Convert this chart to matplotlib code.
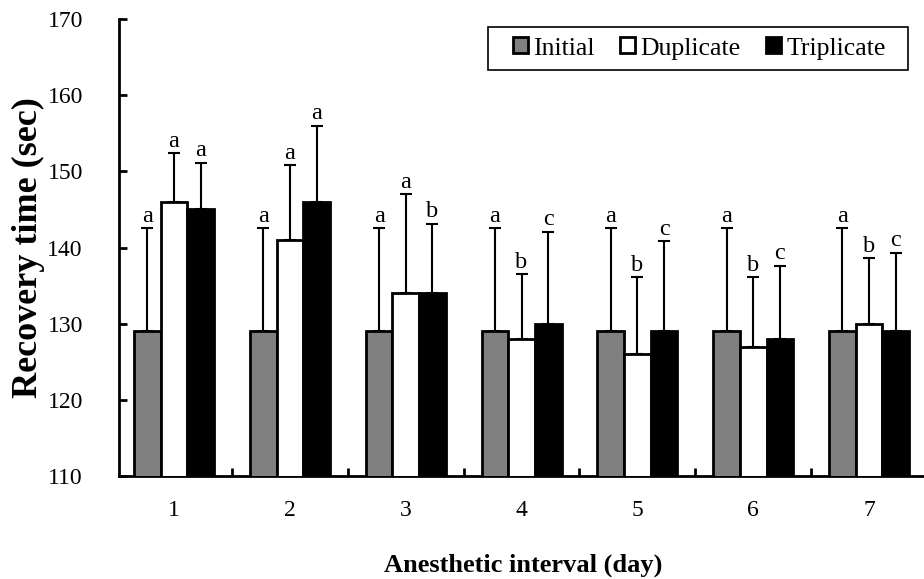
import matplotlib
matplotlib.use("Agg")
import matplotlib.pyplot as plt
import numpy as np
from matplotlib.patches import Patch, Rectangle

plt.rcParams['font.family'] = ['Liberation Serif', 'DejaVu Serif']

days = ['1', '2', '3', '4', '5', '6', '7']
series_names = ['Initial', 'Duplicate', 'Triplicate']
initial = [129, 129, 129, 129, 129, 129, 129]
duplicate = [146, 141, 134, 128, 126, 127, 130]
triplicate = [145, 146, 134, 130, 129, 128, 129]
initial_sd = [13.5, 13.5, 13.5, 13.5, 13.5, 13.5, 13.5]
duplicate_sd = [6.4, 9.8, 13.0, 8.5, 10.1, 9.1, 8.6]
triplicate_sd = [6.1, 10.0, 9.1, 12.1, 11.8, 9.6, 10.3]
initial_letters = ['a'] * 7
duplicate_letters = ['a', 'a', 'a', 'b', 'b', 'b', 'b']
triplicate_letters = ['a', 'a', 'b', 'c', 'c', 'c', 'c']

colors = ['#808080', '#ffffff', '#000000']

fig = plt.figure(figsize=(9.24, 5.79), dpi=100)
ax = fig.add_axes([119/924, 103/579, 808/924, 457/579])

x = np.arange(len(days))
w = 0.23
offsets = [-w, 0, w]
vals = [initial, duplicate, triplicate]
sds = [initial_sd, duplicate_sd, triplicate_sd]
letters = [initial_letters, duplicate_letters, triplicate_letters]

for i in range(3):
    xs = x + offsets[i]
    ax.bar(xs, vals[i], width=w, bottom=0, color=colors[i], edgecolor='black',
           linewidth=2.0, zorder=3)
    ax.errorbar(xs, vals[i], yerr=[np.zeros(7), sds[i]], fmt='none', ecolor='black',
                elinewidth=1.5, capsize=4.3, capthick=1.5, zorder=2)
    for xi, v, s, l in zip(xs, vals[i], sds[i], letters[i]):
        ax.text(xi, v + s + 0.2, l, ha='center', va='bottom', fontsize=17.5)

ax.set_ylim(110, 170)
ax.set_xlim(-0.475, 6.5)
ax.set_yticks(np.arange(110, 171, 10))
ax.set_xticks(x)
ax.set_xticklabels(days)
ax.set_xticks(np.arange(0.5, 6.0, 1.0), minor=True)
ax.tick_params(axis='x', which='major', length=0, labelsize=17, pad=17)
ax.tick_params(axis='x', which='minor', direction='in', length=6, width=2)
ax.tick_params(axis='y', direction='in', length=6, width=2, labelsize=17, pad=26)

for s in ['top', 'right']:
    ax.spines[s].set_visible(False)
for s in ['left', 'bottom']:
    ax.spines[s].set_linewidth(2)

ax.set_ylabel('Recovery time (sec)', fontsize=26, fontweight='bold', labelpad=2)
ax.set_xlabel('Anesthetic interval (day)', fontsize=19, fontweight='bold', labelpad=24)

handles = [Patch(facecolor=colors[i], edgecolor='black', linewidth=2.0, label=series_names[i])
           for i in range(3)]
leg = ax.legend(handles=handles, loc='center left',
                ncol=3, fontsize=18.5, frameon=False,
                handlelength=0.58, handleheight=0.58, handletextpad=0.2, columnspacing=1.0,
                borderpad=0.0, borderaxespad=0.0)
leg.set_bbox_to_anchor((513/924, 1 - 48.5/579), transform=fig.transFigure)
fig.add_artist(Rectangle((488/924, 1 - 70/579), 420/924, 43/579, transform=fig.transFigure,
                         facecolor='none', edgecolor='black', linewidth=1.2))

fig.savefig('out.png', dpi=100)
